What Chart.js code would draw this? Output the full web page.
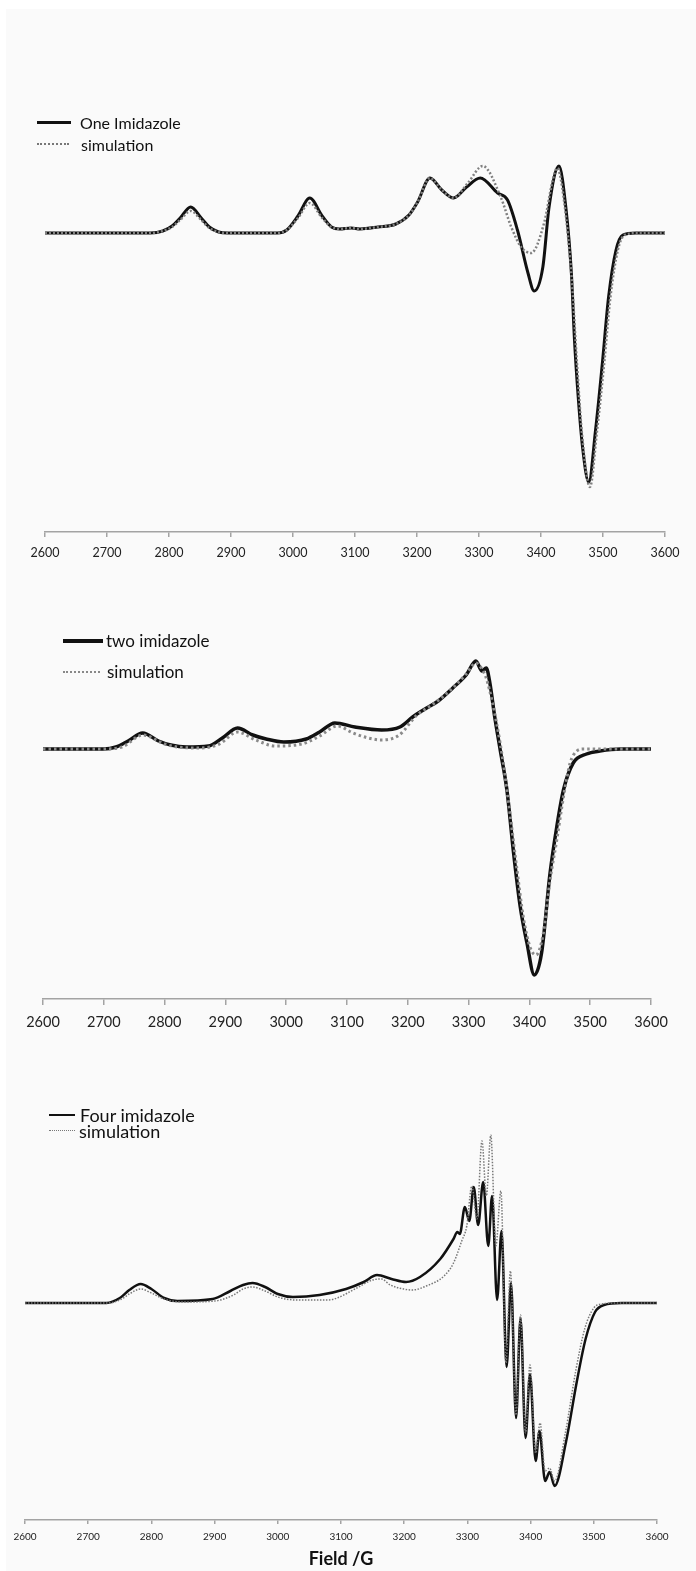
<!DOCTYPE html>
<html>
<head>
<meta charset="utf-8">
<title>EPR spectra – imidazole complexes</title>
<script src="https://cdn.jsdelivr.net/npm/chart.js@4.4.1/dist/chart.umd.min.js"></script>
<style>
  html, body { margin: 0; padding: 0; background: #fff; }
  body { width: 696px; height: 1571px; position: relative; overflow: hidden; font-family: Lato, "Open Sans", sans-serif; }
  #sheet { position: absolute; left: 6px; top: 9px; right: 0; bottom: 0; background: #fafafa; }
  canvas { position: absolute; left: 0; }
  .key { position: absolute; white-space: nowrap; color: #111; height: 20px; line-height: 20px; }
  .swatch { position: absolute; }
</style>
</head>
<body>
<div id="sheet"></div>

<canvas id="chart-one" width="696" height="472" style="top:100px"></canvas>
<canvas id="chart-two" width="696" height="439" style="top:600px"></canvas>
<canvas id="chart-four" width="696" height="470" style="top:1100px"></canvas>

<!-- legends -->
<div class="swatch" style="left:37px; top:121px; width:34px; border-top:3px solid #111"></div>
<div class="key" style="left:80px; top:113px; font-size:16px">One Imidazole</div>
<div class="swatch" style="left:37px; top:143px; width:32px; border-top:2px dotted #777"></div>
<div class="key" style="left:81px; top:135px; font-size:16px">simulation</div>

<div class="swatch" style="left:63px; top:639px; width:40px; border-top:4px solid #111"></div>
<div class="key" style="left:106px; top:631px; font-size:17px">two imidazole</div>
<div class="swatch" style="left:63px; top:671px; width:37px; border-top:2px dotted #888"></div>
<div class="key" style="left:107px; top:662px; font-size:17px">simulation</div>

<div class="swatch" style="left:49px; top:1114px; width:26px; border-top:2.5px solid #111"></div>
<div class="key" style="left:80px; top:1105px; font-size:18px">Four imidazole</div>
<div class="swatch" style="left:49px; top:1130px; width:26px; border-top:1.5px dotted #777"></div>
<div class="key" style="left:79px; top:1121px; font-size:18px">simulation</div>

<script>
// field axis (Gauss)
const fieldMin = 2600;
const fieldMax = 3600;
const fieldStep = 100;

// one imidazole: measured
const oneExpField = [2600, 2770, 2790, 2805, 2818, 2835, 2852, 2865, 2880, 2895, 2975, 2990, 3008, 3027, 3047, 3062, 3075, 3094, 3108, 3137, 3166, 3187, 3201, 3221, 3240, 3259, 3280, 3302, 3330, 3346, 3362, 3379, 3389, 3403, 3413, 3429, 3440, 3449, 3454, 3460, 3467, 3477, 3488, 3499, 3509, 3521, 3532, 3553, 3600];
const oneExpSignal = [0, 0, 2, 7, 15, 26, 15, 6, 1, 0, 0, 3, 17, 35, 17, 6, 4, 5, 4, 6, 9, 18, 31, 55, 43, 35, 46, 55, 40, 33, 3, -40, -58, -34, 26, 67, 26, -40, -107, -164, -214, -249, -197, -130, -64, -17, -2, 0, 0];
// one imidazole: simulation
const oneSimField = [2600, 2770, 2790, 2805, 2818, 2835, 2852, 2865, 2880, 2895, 2975, 2990, 3008, 3027, 3047, 3062, 3075, 3094, 3108, 3137, 3166, 3187, 3201, 3221, 3240, 3259, 3282, 3306, 3335, 3352, 3368, 3384, 3405, 3419, 3426, 3437, 3450, 3458, 3466, 3479, 3490, 3502, 3512, 3524, 3535, 3555, 3600];
const oneSimSignal = [0, 0, 2, 6, 13, 22, 13, 5, 1, 0, 0, 3, 15, 30, 15, 6, 4, 5, 4, 6, 9, 18, 31, 55, 43, 35, 50, 67, 36, 6, -14, -20, 10, 53, 65, 33, -50, -130, -200, -254, -200, -130, -64, -17, -2, 0, 0];

// two imidazole: measured
const twoExpField = [2600, 2700, 2720, 2740, 2764, 2790, 2810, 2836, 2872, 2895, 2920, 2945, 2967, 2996, 3033, 3055, 3080, 3113, 3157, 3187, 3208, 3231, 3250, 3274, 3296, 3312, 3322, 3329, 3335, 3343, 3352, 3363, 3374, 3385, 3396, 3408, 3420, 3434, 3445, 3456, 3472, 3494, 3516, 3550, 3600];
const twoExpSignal = [0, 0, 2, 8, 16, 8, 4, 2, 3, 11, 21, 14, 10, 7, 10, 17, 26, 22, 19, 22, 32, 41, 48, 61, 74, 88, 78, 81, 66, 32, -1, -41, -104, -158, -194, -226, -204, -124, -78, -41, -14, -5, -2, 0, 0];
// two imidazole: simulation
const twoSimField = [2600, 2700, 2730, 2764, 2800, 2821, 2858, 2890, 2920, 2950, 2982, 3026, 3055, 3084, 3110, 3135, 3157, 3186, 3215, 3240, 3274, 3296, 3312, 3322, 3330, 3346, 3357, 3368, 3379, 3390, 3401, 3411, 3423, 3434, 3445, 3456, 3467, 3478, 3489, 3600];
const twoSimSignal = [0, 0, 2, 14, 5, 2, 1, 5, 17, 9, 3, 5, 13, 23, 16, 11, 9, 14, 34, 44, 61, 75, 86, 80, 69, 26, -14, -64, -118, -168, -198, -206, -184, -131, -91, -48, -14, -2, 0, 0];

// four imidazole: measured
const fourExpField = [2600, 2729, 2750, 2765, 2783, 2800, 2820, 2841, 2897, 2925, 2945, 2960, 2980, 3000, 3024, 3066, 3108, 3136, 3157, 3180, 3203, 3225, 3257, 3278, 3284, 3288, 3296, 3303, 3310, 3317, 3325, 3333, 3339, 3347, 3354, 3362, 3369, 3377, 3384, 3392, 3399, 3408, 3414, 3423, 3430, 3438, 3456, 3473, 3487, 3502, 3516, 3544, 3600];
const fourExpSignal = [0, 0, 5, 13, 19, 14, 5, 2, 4, 12, 18, 20, 16, 9, 6, 8, 14, 21, 28, 24, 21, 26, 44, 64, 71, 69, 96, 82, 116, 78, 121, 57, 107, 3, 72, -64, 20, -115, -15, -135, -71, -158, -128, -178, -169, -183, -139, -79, -36, -9, -2, 0, 0];
// four imidazole: simulation
const fourSimField = [2600, 2729, 2750, 2765, 2783, 2800, 2820, 2850, 2900, 2930, 2945, 2960, 2980, 3000, 3030, 3080, 3094, 3122, 3150, 3164, 3178, 3199, 3213, 3235, 3263, 3278, 3291, 3299, 3307, 3315, 3323, 3330, 3337, 3345, 3353, 3361, 3368, 3377, 3384, 3392, 3399, 3408, 3415, 3423, 3430, 3438, 3455, 3472, 3486, 3500, 3512, 3540, 3600];
const fourSimSignal = [0, 0, 3, 9, 14, 10, 4, 1, 2, 8, 14, 16, 12, 6, 3, 3, 5, 14, 23, 24, 18, 14, 13, 17, 27, 40, 62, 77, 117, 84, 162, 107, 168, 57, 112, -60, 32, -112, -12, -130, -62, -150, -120, -168, -165, -178, -130, -66, -25, -5, -1, 0, 0];

function toPoints(xs, ys) {
  return xs.map((x, i) => ({ x, y: ys[i] }));
}

function drawSpectrum(id, o) {
  const ctx = document.getElementById(id).getContext("2d");
  return new Chart(ctx, {
    type: "line",
    data: {
      datasets: [
        {
          label: o.expLabel,
          data: toPoints(o.expField, o.expSignal),
          borderColor: "#111",
          borderWidth: o.expWidth,
          order: 2,
        },
        {
          label: "simulation",
          data: toPoints(o.simField, o.simSignal),
          borderColor: o.simColor,
          borderWidth: o.simWidth,
          borderDash: o.simDash,
          order: 1,
        },
      ],
    },
    options: {
      responsive: false,
      animation: false,
      events: [],
      layout: { padding: { left: o.left, right: o.right, top: 0, bottom: 0 } },
      elements: {
        point: { radius: 0 },
        line: { cubicInterpolationMode: "monotone", fill: false, borderJoinStyle: "round" },
      },
      plugins: { legend: { display: false }, tooltip: { enabled: false } },
      scales: {
        x: {
          type: "linear",
          min: fieldMin,
          max: fieldMax,
          border: { display: true, color: "#a3a3a3", width: 1.5 },
          grid: { drawOnChartArea: false, drawTicks: true, tickLength: o.tickLength, color: "#a3a3a3", lineWidth: 1.5 },
          ticks: {
            stepSize: fieldStep,
            padding: o.tickPadding,
            color: "#222",
            maxRotation: 0,
            autoSkip: false,
            font: { family: "Lato", size: o.tickSize },
            callback: (v) => String(v),
          },
          title: o.title || { display: false },
          afterFit: (scale) => { scale.height = o.axisHeight; },
        },
        y: { display: false, min: o.yMin, max: o.yMax },
      },
    },
  });
}

drawSpectrum("chart-one", {
  expLabel: "One Imidazole",
  expField: oneExpField, expSignal: oneExpSignal,
  simField: oneSimField, simSignal: oneSimSignal,
  expWidth: 3, simWidth: 2.5, simColor: "#808080", simDash: [2, 2],
  left: 45, right: 31, yMin: -299, yMax: 133,
  tickLength: 5, tickPadding: 8, tickSize: 12.5, axisHeight: 40,
});

drawSpectrum("chart-two", {
  expLabel: "two imidazole",
  expField: twoExpField, expSignal: twoExpSignal,
  simField: twoSimField, simSignal: twoSimSignal,
  expWidth: 3.5, simWidth: 3, simColor: "#8a8a8a", simDash: [2.5, 3],
  left: 43, right: 45, yMin: -250, yMax: 149,
  tickLength: 6, tickPadding: 9, tickSize: 14.5, axisHeight: 40,
});

drawSpectrum("chart-four", {
  expLabel: "Four imidazole",
  expField: fourExpField, expSignal: fourExpSignal,
  simField: fourSimField, simSignal: fourSimSignal,
  expWidth: 2.5, simWidth: 1.5, simColor: "#777", simDash: [1.5, 1.5],
  left: 25, right: 39, yMin: -217, yMax: 203,
  tickLength: 4, tickPadding: 7, tickSize: 10, axisHeight: 50,
  title: {
    display: true,
    text: "Field /G",
    color: "#111",
    padding: { top: 0, bottom: 0 },
    font: { family: "Lato", size: 18, weight: "bold" },
  },
});
</script>
</body>
</html>
